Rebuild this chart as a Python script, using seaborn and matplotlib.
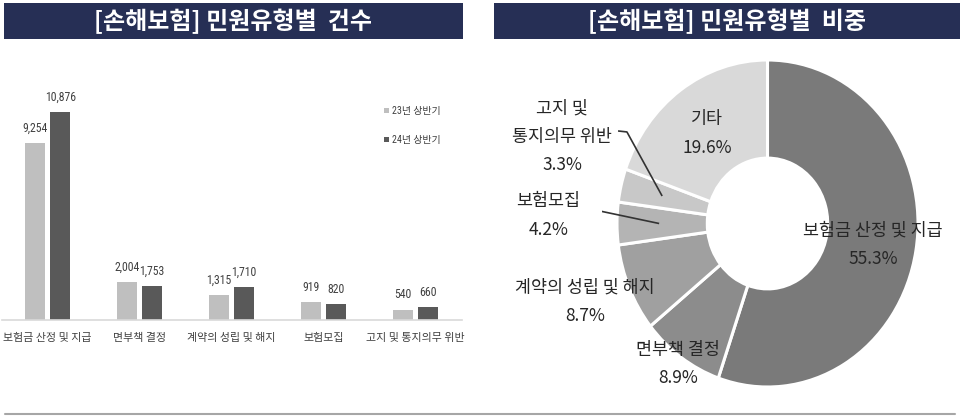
import numpy as np
import pandas as pd
import matplotlib
matplotlib.use("Agg")
import matplotlib.pyplot as plt
from matplotlib import font_manager as fm
from matplotlib.lines import Line2D
import seaborn as sns

# ---------------- data ----------------
categories = ["보험금 산정 및 지급", "면부책 결정", "계약의 성립 및 해지", "보험모집", "고지 및 통지의무 위반"]
series_names = ["23년 상반기", "24년 상반기"]
h1_2023 = [9254, 2004, 1315, 919, 540]
h1_2024 = [10876, 1753, 1710, 820, 660]

pie_labels = ["보험금 산정 및 지급", "면부책 결정", "계약의 성립 및 해지", "보험모집", "고지 및\n통지의무 위반", "기타"]
pie_shares = [55.3, 8.9, 8.7, 4.2, 3.3, 19.6]

title_left = "[손해보험] 민원유형별  건수"
title_right = "[손해보험] 민원유형별  비중"

# ---------------- style ----------------
sns.set_theme(style="white")
plt.rcParams["font.family"] = ["Noto Sans CJK KR", "DejaVu Sans"]
fonts = fm.fontManager.ttflist
names = {f.name for f in fonts}
narrow = None
for cand in ["Liberation Sans Narrow", "Roboto Condensed", "Open Sans Condensed"]:
    if cand in names:
        narrow = cand
        break
dejavu_cond = any(f.name == "DejaVu Sans" and f.stretch == "condensed" for f in fonts)
small_family = ([narrow] if narrow else []) + ["Noto Sans CJK KR", "DejaVu Sans"]
if narrow:
    num_font = dict(family=[narrow, "DejaVu Sans"])
elif dejavu_cond:
    num_font = dict(family=["DejaVu Sans"], stretch="condensed")
else:
    num_font = dict(family=small_family)

NAVY = "#262f55"
BAR_COLORS = ["#bfbfbf", "#595959"]
PIE_COLORS = ["#7a7a7a", "#8c8c8c", "#a0a0a0", "#b4b4b4", "#c8c8c8", "#d9d9d9"]
TXT = "#404040"

W, H = 960, 419
fig = plt.figure(figsize=(W / 100, H / 100), dpi=100)
fig.patch.set_facecolor("white")


def fig_rect(x0, y0, x1, y1):
    """pixel box (top-left origin) -> figure fraction rect"""
    return [x0 / W, (H - y1) / H, (x1 - x0) / W, (y1 - y0) / H]


# ---------------- title bars ----------------
for (x0, x1), ttl in [((4, 463), title_left), ((494, 960), title_right)]:
    tax = fig.add_axes(fig_rect(x0, 3, x1, 39))
    tax.set_facecolor(NAVY)
    for s in tax.spines.values():
        s.set_visible(False)
    tax.set_xticks([])
    tax.set_yticks([])
    tax.text(0.5, 0.5, ttl, color="white", fontsize=17.3, fontweight="bold",
             ha="center", va="center", transform=tax.transAxes)

# ---------------- bar chart ----------------
df = pd.DataFrame({
    "유형": categories * 2,
    "기간": [series_names[0]] * len(categories) + [series_names[1]] * len(categories),
    "건수": h1_2023 + h1_2024,
})

ax = fig.add_axes(fig_rect(1.5, 60, 461.5, 320))
sns.barplot(data=df, x="유형", y="건수", hue="기간", hue_order=series_names,
            palette=BAR_COLORS, width=0.554, gap=0.215, ax=ax, saturation=1,
            edgecolor="none", linewidth=0, errorbar=None)
ax.set_xlim(-0.5, len(categories) - 0.5)
ax.set_ylim(0, 13600)
ax.set_xlabel("")
ax.set_ylabel("")
ax.set_yticks([])
for side in ["left", "top", "right"]:
    ax.spines[side].set_visible(False)
ax.spines["bottom"].set_color("#d9d9d9")
ax.spines["bottom"].set_linewidth(1.2)
ax.set_facecolor("white")
ax.tick_params(axis="x", which="major", length=0, pad=9, labelsize=7.9, labelcolor=TXT)
for lab in ax.get_xticklabels():
    lab.set_family(small_family)
ax.set_xticks(np.arange(len(categories)) + 0.5, minor=True)
ax.tick_params(axis="x", which="minor", length=5, width=1, color="#d9d9d9", direction="out")

for cont in ax.containers:
    vals = [b.get_height() for b in cont]
    ax.bar_label(cont, labels=[f"{v:,.0f}" for v in vals], padding=6,
                 fontsize=8.5, color=TXT, **num_font)

handles, labels = ax.get_legend_handles_labels()
ax.legend(handles, labels, loc="upper left",
          bbox_to_anchor=(384 / W, (H - 106) / H), bbox_transform=fig.transFigure,
          frameon=False, handlelength=0.5, handleheight=0.5, handletextpad=0.35,
          labelspacing=1.9, borderpad=0, borderaxespad=0,
          prop={"family": small_family, "size": 7.2}, labelcolor=TXT)

# ---------------- donut chart ----------------
cx, cy, rx, ry = 767.5, 223.5, 150.5, 163.5
lim = 1.1
pax = fig.add_axes(fig_rect(cx - lim * rx, cy - lim * ry, cx + lim * rx, cy + lim * ry))
wedges, _ = pax.pie(pie_shares, startangle=90, counterclock=False, colors=PIE_COLORS,
                    wedgeprops=dict(width=0.6, edgecolor="white", linewidth=2.2))
pax.set_aspect("auto")
pax.set_xlim(-lim, lim)
pax.set_ylim(-lim, lim)
pax.axis("off")

# label positions (layout, in pie-axis units)
label_pos = [(0.70, -0.13), (-0.595, -0.86), (-1.213, -0.48),
             (-1.458, 0.05), (-1.365, 0.53), (-0.402, 0.55)]
for w, name, share, (lx, ly) in zip(wedges, pie_labels, pie_shares, label_pos):
    pax.text(lx, ly, f"{name}\n{share:.1f}%", ha="center", va="center",
             multialignment="center", fontsize=12.5, fontweight=500, color="#262626",
             linespacing=1.75)

# leader lines for small slices
leader_starts = {3: [(-1.179, 0.089)], 4: [(-0.993, 0.566), (-0.934, 0.560)]}
for idx, pts in leader_starts.items():
    w = wedges[idx]
    mid = np.deg2rad((w.theta1 + w.theta2) / 2)
    end = (0.72 * np.cos(mid), 0.72 * np.sin(mid))
    xs = [p[0] for p in pts] + [end[0]]
    ys = [p[1] for p in pts] + [end[1]]
    pax.plot(xs, ys, color="#333333", lw=1.2, solid_capstyle="butt")

# bottom rule
fig.add_artist(Line2D([5 / W, 955 / W], [(H - 414) / H] * 2, color="#a6a6a6", lw=1.5))

fig.savefig("out.png", dpi=100, facecolor="white")
